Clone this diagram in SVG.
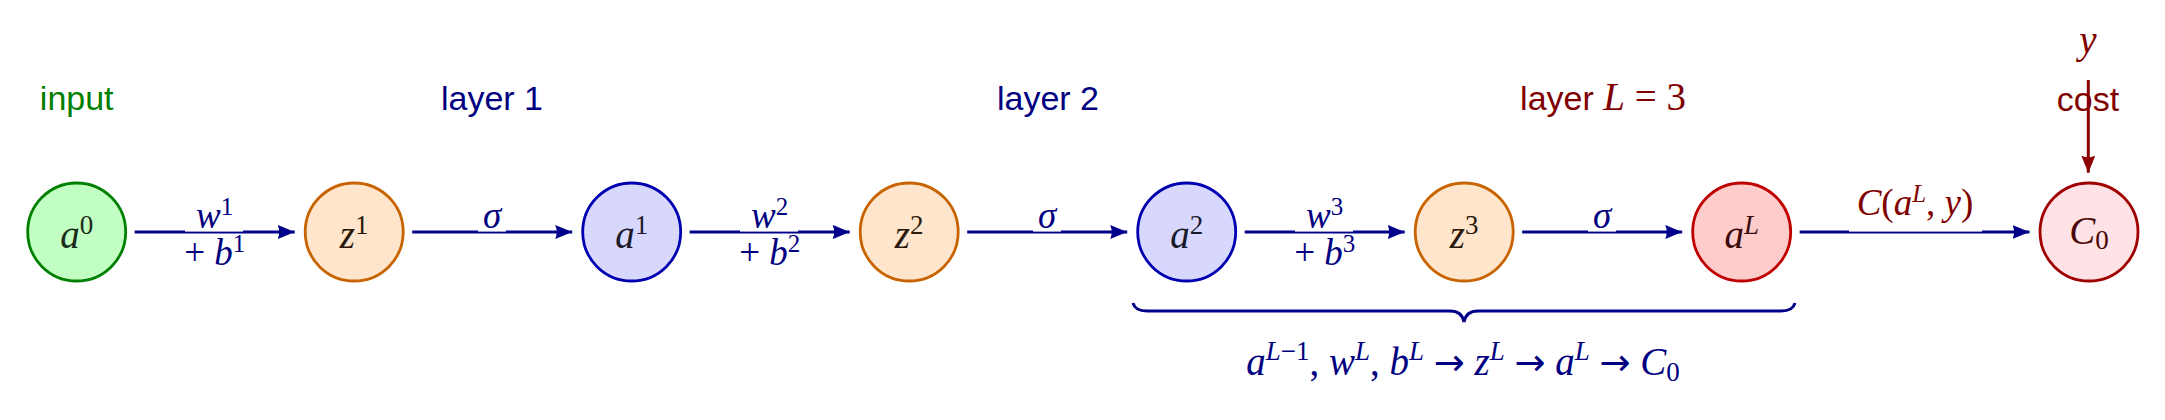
<svg xmlns="http://www.w3.org/2000/svg" width="2165" height="420" viewBox="0 0 2165 420">
<defs>
<style>
.sans{font-family:"Liberation Sans","DejaVu Sans",sans-serif;font-size:34px}
.m{font-family:"Liberation Serif","DejaVu Serif",serif;font-size:39px}
.el{font-size:37px}
.i{font-style:italic}
.sup{font-size:27px}
.el .sup{font-size:25px}
.arr{font-family:"DejaVu Sans",sans-serif;font-size:37px;font-style:normal}
.node{stroke-width:2.8}
.n-in{fill:#C2FFC2;stroke:#008000}
.n-z{fill:#FFE5CC;stroke:#C86400}
.n-a{fill:#D8D8FF;stroke:#0000B0}
.n-out{fill:#FFCCCC;stroke:#C00000}
.n-c{fill:#FFE2E5;stroke:#A00000}
.edge{stroke:#00008B;stroke-width:3;fill:none;marker-end:url(#ah)}
.edge-r{stroke:#8B0000;stroke-width:3;fill:none;marker-end:url(#ahr)}
.navy{fill:#000080}
.dred{fill:#800000}
.cover{fill:#fff}
</style>
<marker id="ah" markerUnits="userSpaceOnUse" markerWidth="18" markerHeight="14" refX="17" refY="7" orient="auto">
<path d="M0,0 L17,7 L0,14 Q3,7 0,0 z" fill="#00008B"/>
</marker>
<marker id="ahr" markerUnits="userSpaceOnUse" markerWidth="18" markerHeight="14" refX="17" refY="7" orient="auto">
<path d="M0,0 L17,7 L0,14 Q3,7 0,0 z" fill="#8B0000"/>
</marker>
</defs>

<!-- headings -->
<g id="headings">
<text class="sans" x="76.7" y="110" text-anchor="middle" fill="#007F00">input</text>
<text class="sans navy" x="492" y="110" text-anchor="middle">layer 1</text>
<text class="sans navy" x="1048" y="110" text-anchor="middle">layer 2</text>
<text x="1603" y="110" text-anchor="middle" class="dred"><tspan class="sans">layer </tspan><tspan class="m i">L</tspan><tspan class="m"> = 3</tspan></text>
<text class="m i dred" x="2088" y="53" text-anchor="middle">y</text>
<text class="sans dred" x="2088" y="111" text-anchor="middle">cost</text>
</g>

<!-- connectors -->
<g id="connectors">
<line class="edge" x1="134.7" y1="232" x2="294.7" y2="232"/>
<line class="edge" x1="412.2" y1="232" x2="572.2" y2="232"/>
<line class="edge" x1="689.7" y1="232" x2="849.7" y2="232"/>
<line class="edge" x1="967.2" y1="232" x2="1127.2" y2="232"/>
<line class="edge" x1="1244.7" y1="232" x2="1404.7" y2="232"/>
<line class="edge" x1="1522.2" y1="232" x2="1682.2" y2="232"/>
<line class="edge" x1="1799.7" y1="232" x2="2029.5" y2="232"/>
<line class="edge-r" x1="2088.3" y1="80" x2="2088.3" y2="172.7"/>
<path d="M1133,303 Q1135,311 1147,311 L1450,311 Q1462,311 1464,322 Q1466,311 1478,311 L1781,311 Q1793,311 1795,303" fill="none" stroke="#00008B" stroke-width="3"/>
</g>

<!-- edge labels -->
<g id="edge-labels" class="m el navy">
<rect class="cover" x="185" y="205" width="58" height="26.6"/>
<text x="214.7" y="228" text-anchor="middle"><tspan class="i">w</tspan><tspan class="sup" dy="-13">1</tspan></text>
<text x="214.7" y="265" text-anchor="middle"><tspan>+ </tspan><tspan class="i">b</tspan><tspan class="sup" dy="-13">1</tspan></text>

<rect class="cover" x="478" y="205" width="28" height="26.6"/>
<text x="492.2" y="228" text-anchor="middle" class="i">σ</text>

<rect class="cover" x="740" y="205" width="58" height="26.6"/>
<text x="769.7" y="228" text-anchor="middle"><tspan class="i">w</tspan><tspan class="sup" dy="-13">2</tspan></text>
<text x="769.7" y="265" text-anchor="middle"><tspan>+ </tspan><tspan class="i">b</tspan><tspan class="sup" dy="-13">2</tspan></text>

<rect class="cover" x="1033" y="205" width="28" height="26.6"/>
<text x="1047.2" y="228" text-anchor="middle" class="i">σ</text>

<rect class="cover" x="1295" y="205" width="58" height="26.6"/>
<text x="1324.7" y="228" text-anchor="middle"><tspan class="i">w</tspan><tspan class="sup" dy="-13">3</tspan></text>
<text x="1324.7" y="265" text-anchor="middle"><tspan>+ </tspan><tspan class="i">b</tspan><tspan class="sup" dy="-13">3</tspan></text>

<rect class="cover" x="1588" y="205" width="28" height="26.6"/>
<text x="1602.2" y="228" text-anchor="middle" class="i">σ</text>

<rect class="cover" x="1849" y="190" width="133" height="41.6"/>
<text x="1915" y="215" text-anchor="middle" class="dred"><tspan class="i">C</tspan><tspan>(</tspan><tspan class="i">a</tspan><tspan class="sup i" dy="-13">L</tspan><tspan dy="13">, </tspan><tspan class="i">y</tspan><tspan>)</tspan></text>
</g>

<!-- nodes -->
<g id="node-a0"><circle class="node n-in" cx="76.7" cy="232" r="49"/>
<text class="m" x="76.7" y="248" text-anchor="middle" fill="#1c2c1c"><tspan class="i">a</tspan><tspan class="sup" dy="-14">0</tspan></text></g>
<g id="node-z1"><circle class="node n-z" cx="354.2" cy="232" r="49"/>
<text class="m" x="354.2" y="248" text-anchor="middle" fill="#2a1a0a"><tspan class="i">z</tspan><tspan class="sup" dy="-14">1</tspan></text></g>
<g id="node-a1"><circle class="node n-a" cx="631.7" cy="232" r="49"/>
<text class="m" x="631.7" y="248" text-anchor="middle" fill="#1a1a2a"><tspan class="i">a</tspan><tspan class="sup" dy="-14">1</tspan></text></g>
<g id="node-z2"><circle class="node n-z" cx="909.2" cy="232" r="49"/>
<text class="m" x="909.2" y="248" text-anchor="middle" fill="#2a1a0a"><tspan class="i">z</tspan><tspan class="sup" dy="-14">2</tspan></text></g>
<g id="node-a2"><circle class="node n-a" cx="1186.7" cy="232" r="49"/>
<text class="m" x="1186.7" y="248" text-anchor="middle" fill="#1a1a2a"><tspan class="i">a</tspan><tspan class="sup" dy="-14">2</tspan></text></g>
<g id="node-z3"><circle class="node n-z" cx="1464.2" cy="232" r="49"/>
<text class="m" x="1464.2" y="248" text-anchor="middle" fill="#2a1a0a"><tspan class="i">z</tspan><tspan class="sup" dy="-14">3</tspan></text></g>
<g id="node-aL"><circle class="node n-out" cx="1741.7" cy="232" r="49"/>
<text class="m" x="1741.7" y="248" text-anchor="middle" fill="#3a0a0a"><tspan class="i">a</tspan><tspan class="sup i" dy="-14">L</tspan></text></g>
<g id="node-C0"><circle class="node n-c" cx="2089" cy="232" r="49"/>
<text class="m" x="2089" y="244" text-anchor="middle" fill="#4a0505"><tspan class="i">C</tspan><tspan class="sup" dy="5">0</tspan></text></g>

<!-- brace label -->
<g id="brace-label">
<text class="m navy" x="1463" y="375" text-anchor="middle"><tspan class="i">a</tspan><tspan class="sup" dy="-15"><tspan class="i">L</tspan>−1</tspan><tspan dy="15">, </tspan><tspan class="i">w</tspan><tspan class="sup i" dy="-15">L</tspan><tspan dy="15">, </tspan><tspan class="i">b</tspan><tspan class="sup i" dy="-15">L</tspan><tspan dy="15"> </tspan><tspan class="arr">→</tspan><tspan> </tspan><tspan class="i">z</tspan><tspan class="sup i" dy="-15">L</tspan><tspan dy="15"> </tspan><tspan class="arr">→</tspan><tspan> </tspan><tspan class="i">a</tspan><tspan class="sup i" dy="-15">L</tspan><tspan dy="15"> </tspan><tspan class="arr">→</tspan><tspan> </tspan><tspan class="i">C</tspan><tspan class="sup" dy="6">0</tspan></text>
</g>
</svg>
